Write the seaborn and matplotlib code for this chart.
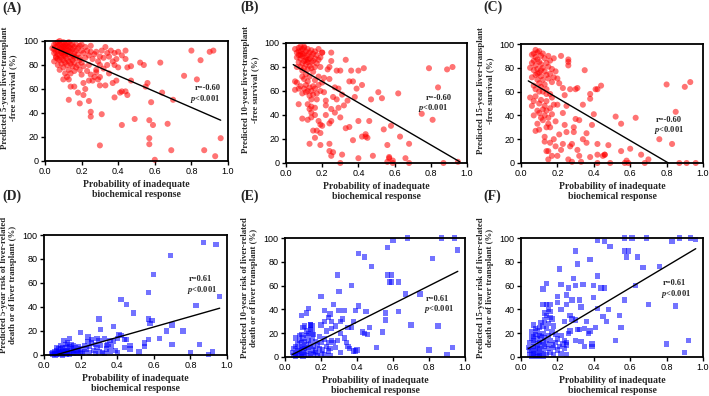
import matplotlib
matplotlib.use("Agg")
import matplotlib.pyplot as plt
import seaborn as sns

# ---------------- data ----------------
a_x = [0.04,0.05,0.05,0.06,0.06,0.06,0.07,0.07,0.07,0.07,0.08,0.08,
       0.08,0.08,0.09,0.09,0.09,0.09,0.09,0.10,0.10,0.10,0.10,0.10,
       0.11,0.11,0.11,0.11,0.12,0.12,0.12,0.12,0.13,0.13,0.13,0.13,
       0.14,0.14,0.14,0.15,0.15,0.15,0.16,0.16,0.16,0.17,0.17,0.18,
       0.18,0.19,0.19,0.20,0.20,0.06,0.07,0.09,0.11,0.12,0.14,0.05,
       0.05,0.06,0.07,0.08,0.08,0.09,0.10,0.10,0.11,0.11,0.12,0.12,
       0.13,0.13,0.13,0.14,0.14,0.15,0.15,0.16,0.16,0.17,0.17,0.18,
       0.19,0.19,0.20,0.10,0.14,0.16,
       0.21,0.22,0.22,0.23,0.24,0.24,0.25,0.25,0.26,0.27,0.28,0.28,
       0.29,0.30,0.30,0.31,0.32,0.33,0.34,0.35,0.36,0.37,0.38,0.38,
       0.39,0.40,0.40,0.42,0.44,0.44,0.45,0.47,0.52,0.54,0.63,0.21,
       0.20,0.21,0.22,0.23,0.24,0.25,0.26,0.27,0.28,0.29,0.30,0.30,
       0.32,0.33,0.34,0.35,0.37,0.38,0.39,0.41,0.42,0.44,0.45,0.47,
       0.55,0.56,0.58,0.64,0.70,0.13,0.19,0.18,0.21,0.24,
       0.25,0.25,0.31,0.42,0.49,0.57,0.59,0.67,0.57,0.57,0.30,0.60,0.69,
       0.76,0.80,0.83,0.85,0.87,0.90,0.92,0.93,0.96]
a_y = [94,93,97,95,98,91,92,96,99,89,94,97,
       100,88,90,93,95,98,86,91,94,96,99,88,
       92,95,97,87,90,93,98,85,89,92,95,99,
       91,94,86,88,93,97,90,95,87,92,97,89,
       94,86,96,92,97,87,85,91,89,96,97,90,
       83,86,80,76,84,81,78,84,73,82,80,70,
       76,68,83,81,73,79,84,75,82,78,86,80,
       76,84,82,68,62,62,
       90,86,95,92,88,80,96,91,85,89,91,76,
       83,87,80,92,86,95,90,87,92,83,90,80,
       85,91,78,88,92,85,78,79,82,80,82,79,
       72,65,60,75,67,72,67,70,74,68,70,63,
       77,63,80,73,65,53,67,57,58,58,55,67,
       62,65,49,57,51,51,48,57,55,50,
       41,37,39,30,35,34,30,31,19,14,13,1,9,
       71,92,68,84,9,91,92,4,19]

b_x = [0.05,0.06,0.06,0.07,0.07,0.07,0.08,0.08,0.08,0.08,0.09,0.09,
       0.09,0.09,0.10,0.10,0.10,0.10,0.11,0.11,0.11,0.11,0.12,0.12,
       0.12,0.12,0.13,0.13,0.13,0.13,0.14,0.14,0.14,0.15,0.15,0.15,
       0.16,0.16,0.16,0.17,0.17,0.18,0.18,0.19,0.19,0.20,0.06,0.10,
       0.07,0.09,0.12,0.14,0.08,0.11,
       0.06,0.07,0.08,0.09,0.10,0.10,0.11,0.11,0.12,0.12,0.13,0.13,
       0.14,0.14,0.15,0.15,0.16,0.16,0.17,0.17,0.18,0.18,0.19,0.20,
       0.05,0.05,0.07,0.12,0.14,0.09,0.16,0.13,
       0.09,0.12,0.14,0.14,0.16,0.13,0.15,0.17,0.19,0.18,0.20,0.19,
       0.19,0.16,
       0.20,0.21,0.21,0.22,0.22,0.23,0.24,0.24,0.25,0.25,0.25,0.25,
       0.24,0.24,0.24,0.26,0.27,0.28,0.28,0.29,0.29,0.30,0.30,0.31,
       0.30,0.33,0.33,0.34,0.35,0.36,0.37,0.37,0.38,0.39,0.40,0.40,
       0.40,0.42,0.42,0.43,0.44,0.44,0.45,0.46,0.47,0.48,0.25,0.26,
       0.32,0.27,0.22,0.35,0.31,
       0.51,0.53,0.54,0.56,0.56,0.57,0.57,0.58,0.59,0.59,0.62,0.63,
       0.66,0.68,0.68,0.75,0.79,0.81,0.84,0.87,0.89,0.92,0.95]
b_y = [95,92,88,96,90,84,97,93,87,80,95,89,
       83,77,96,91,85,79,93,88,82,74,95,90,
       84,78,92,87,81,72,94,89,79,91,85,76,
       93,87,80,90,83,95,86,88,80,92,80,97,
       93,91,86,84,90,86,
       67,62,64,58,62,70,59,65,60,68,63,56,
       60,53,64,57,62,69,58,53,65,72,60,67,
       68,61,49,49,47,72,46,45,
       37,36,42,38,40,16,27,27,32,35,31,25,
       15,21,
       92,59,71,48,40,78,70,80,92,85,45,35,
       33,16,10,55,63,53,77,46,62,77,38,7,
       0,29,86,52,68,77,68,19,55,62,77,35,
       4,65,22,79,24,22,21,35,53,6,6,9,
       48,42,52,30,57,
       59,54,28,15,1,5,4,31,2,0,58,22,
       4,16,0,41,79,36,63,0,78,80,1]

c_x = [0.06,0.06,0.07,0.07,0.07,0.08,0.08,0.08,0.08,0.09,0.09,0.09,
       0.09,0.10,0.10,0.10,0.10,0.11,0.11,0.11,0.11,0.12,0.12,0.12,
       0.13,0.13,0.13,0.14,0.14,0.14,0.15,0.15,0.15,0.16,0.16,0.17,
       0.17,0.18,0.18,0.05,0.06,0.07,0.08,0.10,0.12,0.14,0.09,0.11,
       0.05,0.06,0.07,0.07,0.08,0.09,0.09,0.10,0.10,0.11,0.11,0.12,
       0.12,0.13,0.13,0.14,0.14,0.15,0.15,0.16,0.16,0.17,0.17,0.18,
       0.08,0.10,0.13,0.14,0.19,0.20,0.16,
       0.13,0.14,0.15,0.16,0.17,0.18,0.20,0.22,0.19,0.21,0.15,0.23,
       0.19,0.20,0.21,0.22,0.23,0.24,0.25,0.25,0.26,0.26,0.27,0.26,
       0.27,0.28,0.28,0.29,0.30,0.30,0.31,0.32,0.32,0.33,0.34,0.34,
       0.35,0.36,0.38,0.38,0.38,0.39,0.40,0.41,0.42,0.42,0.42,0.42,
       0.45,0.46,0.46,0.48,0.49,0.23,0.29,0.31,0.24,0.36,0.26,0.44,
       0.52,0.55,0.55,0.57,0.58,0.59,0.60,0.63,0.66,0.68,0.70,0.76,
       0.80,0.83,0.85,0.87,0.90,0.91,0.93,0.96]
c_y = [91,84,92,86,78,95,89,82,74,93,87,79,
       70,94,85,76,67,90,83,73,64,92,80,70,
       88,77,66,84,74,62,90,81,71,86,75,79,
       68,88,72,80,72,65,62,60,60,58,75,78,
       55,48,52,40,56,44,33,50,42,38,53,45,
       36,48,40,44,52,38,33,46,30,41,55,49,
       27,28,22,30,35,49,58,
       18,10,10,17,6,20,6,11,14,24,3,16,
       77,71,67,90,63,57,48,26,85,82,62,87,
       14,16,1,26,62,37,63,36,6,1,49,20,
       78,17,58,54,5,32,41,62,62,16,7,0,
       6,7,7,15,0,42,30,11,32,25,3,65,
       39,33,10,0,2,0,12,38,7,0,3,20,
       66,16,43,0,64,0,68,0]

d_x = [0.04,0.05,0.05,0.06,0.06,0.06,0.07,0.07,0.07,0.08,0.08,0.08,
       0.09,0.09,0.09,0.10,0.10,0.10,0.10,0.11,0.11,0.11,0.12,0.12,
       0.12,0.13,0.13,0.13,0.14,0.14,0.14,0.15,0.15,0.15,0.16,0.16,
       0.17,0.17,0.18,0.18,0.19,0.19,0.20,0.20,0.11,0.13,0.14,0.16,
       0.12,0.09,0.08,0.07,
       0.21,0.22,0.22,0.23,0.24,0.25,0.25,0.26,0.27,0.28,0.28,0.29,
       0.30,0.30,0.31,0.32,0.33,0.34,0.35,0.36,0.37,0.38,0.39,0.40,
       0.26,0.33,0.36,0.24,0.29,0.34,
       0.20,0.30,0.31,0.38,0.42,0.45,0.49,0.57,0.57,0.59,0.58,0.60,
       0.69,0.87,0.94,0.96,0.83,0.70,0.67,0.76,0.63,0.41,0.42,0.44,
       0.45,0.40,0.57,0.55,0.55,0.52,0.70,0.85,0.80,0.92,0.90,0.47,
       0.44,0.47]
d_y = [1,0.5,2,1,3,0,1.5,0.5,4,2,1,3,
       0.5,2,5,1,3,6,0,2,4,1,3,0.5,
       6,2,4,1,3,7,0.5,2,5,9,1,4,
       2,6,1,4,3,7,2,5,12,10,14,8,
       9,8,5,6,
       1,3,8,5,11,2,7,13,4,1,9,6,
       3,12,8,2,14,5,9,3,7,11,4,2,
       10,1,12,15,14,8,
       19,30,21,24,46,42,35,52,30,29,26,67,
       83,94,92,49,41,25,20,20,14,17,16,13,
       13,14,13,10,7,2.5,9,9,2,2.5,0.3,8,
       6,5]

e_x = [0.04,0.05,0.05,0.06,0.06,0.06,0.07,0.07,0.07,0.08,0.08,0.08,
       0.09,0.09,0.09,0.10,0.10,0.10,0.10,0.11,0.11,0.11,0.11,0.12,
       0.12,0.12,0.13,0.13,0.13,0.14,0.14,0.14,0.15,0.15,0.15,0.16,
       0.16,0.16,0.17,0.17,0.18,0.18,0.19,0.19,0.20,0.20,0.21,0.22,
       0.22,0.23,0.24,0.24,0.25,0.25,0.12,0.14,0.13,0.06,0.09,0.17,
       0.10,0.08,0.15,
       0.09,0.12,0.13,0.14,0.20,0.20,0.22,0.22,0.24,0.25,0.26,0.26,
       0.27,0.28,0.29,0.30,0.30,0.31,0.32,0.33,0.33,0.34,0.35,0.36,
       0.37,0.37,0.38,0.39,0.39,0.40,0.41,0.41,0.43,0.44,0.44,0.45,
       0.46,0.47,0.48,0.29,0.31,0.35,0.27,0.23,0.31,0.26,0.38,0.28,
       0.51,0.54,0.56,0.56,0.57,0.57,0.58,0.59,0.59,0.60,0.63,0.63,
       0.67,0.68,0.70,0.75,0.80,0.82,0.85,0.87,0.90,0.93,0.94,0.96]
e_y = [4,1,7,3,0.5,9,2,5,11,1,6,14,
       3,8,12,0.5,4,9,16,2,7,13,26,5,
       10,18,1,8,14,3,11,23,6,16,26,2,
       9,19,5,13,1,10,7,17,3,12,6,15,
       2,9,5,12,1,7,22,27,20,16,19,4,
       25,18,21,
       35,37,41,27,51,27,30,39,33,36,30,24,
       44,26,69,55,39,20,32,39,16,12,25,7,
       60,25,30,39,5,6,43,87,21,20,84,38,
       19,25,76,14,4,9,12,22,30,14,5,8,
       8,21,31,37,69,92,63,69,63,98,38,63,
       53,100,27,53,6,83,26,100,2,8,100,90]

f_x = [0.04,0.05,0.05,0.06,0.06,0.06,0.07,0.07,0.07,0.07,0.08,0.08,
       0.08,0.08,0.09,0.09,0.09,0.09,0.10,0.10,0.10,0.10,0.11,0.11,
       0.11,0.11,0.12,0.12,0.12,0.12,0.13,0.13,0.13,0.14,0.14,0.14,
       0.15,0.15,0.15,0.16,0.16,0.16,0.17,0.17,0.18,0.18,0.19,0.19,
       0.20,0.20,0.21,0.22,0.22,0.23,0.24,0.24,0.25,0.25,0.14,0.16,
       0.13,0.17,0.12,0.10,0.09,0.06,0.07,0.18,0.05,0.08,
       0.12,0.14,0.12,0.14,0.15,0.16,0.20,0.20,0.21,0.22,0.22,0.25,
       0.25,0.25,0.26,0.27,0.28,0.29,0.30,0.30,0.30,0.31,0.32,0.33,
       0.33,0.34,0.35,0.36,0.37,0.38,0.38,0.39,0.39,0.40,0.40,0.41,
       0.42,0.42,0.42,0.44,0.45,0.46,0.46,0.47,0.48,0.49,0.30,0.32,
       0.28,0.26,0.31,0.35,0.24,0.27,
       0.52,0.54,0.55,0.57,0.57,0.58,0.59,0.61,0.63,0.64,0.67,0.69,
       0.70,0.76,0.80,0.83,0.85,0.87,0.90,0.92,0.93,0.96,0.57]
f_y = [8,2,12,0.5,5,16,3,9,14,27,1,6,
       11,19,4,8,15,22,1,7,12,25,3,10,
       17,29,5,13,20,0.5,9,16,31,2,11,24,
       7,18,28,4,14,33,10,21,2,26,12,19,
       6,15,9,3,18,11,7,14,2,10,35,38,
       37,32,26,18,0.5,21,17,8,6,24,
       57,62,44,44,40,44,46,51,74,61,40,52,
       44,12,58,22,48,66,89,60,31,78,48,42,
       13,61,24,30,20,82,22,9,11,60,50,25,
       98,68,41,58,34,97,58,30,40,93,14,23,
       32,20,23,9,30,35,
       14,35,25,100,89,84,89,100,60,84,75,100,
       44,76,11,97,43,100,4,14,100,99,48]

# regression lines (end points)
fit_x_top = [0.04, 0.96]
fit_a_y = [95, 34]
fit_b_y = [82, 1]
fit_c_x = [0.04, 0.81]
fit_c_y = [69, 0]
fit_x_bot = [0.04, 0.96]
fit_d_y = [-1, 39]
fit_e_y = [2, 72]
fit_f_y = [7, 91]

r_top = "r=-0.60"
r_bot = "r=0.61"
p_txt = r"$p$<0.001"

ylabels = [
    "Predicted 5-year liver-transplant\n-free survival (%)",
    "Predicted 10-year liver-transplant\n-free survival (%)",
    "Predicted 15-year liver-transplant\n-free survival (%)",
    "Predicted 5-year risk of liver-related\ndeath or of liver transplant (%)",
    "Predicted 10-year risk of liver-related\ndeath or of liver transplant (%)",
    "Predicted 15-year risk of liver-related\ndeath or of liver transplant (%)",
]
xlabel = "Probability of inadequate\nbiochemical response"
panel_tags = ["(A)", "(B)", "(C)", "(D)", "(E)", "(F)"]
xticks = [0.0, 0.2, 0.4, 0.6, 0.8, 1.0]
xticklabels = ["0.0", "0.2", "0.4", "0.6", "0.8", "1.0"]
yticks = [0, 20, 40, 60, 80, 100]

# ---------------- style ----------------
sns.set_theme(style="ticks")
plt.rcParams["font.family"] = ["Liberation Sans", "DejaVu Sans"]
plt.rcParams["mathtext.fontset"] = "custom"
plt.rcParams["mathtext.it"] = "Liberation Serif:italic:bold"
plt.rcParams["mathtext.rm"] = "Liberation Serif:bold"
SERIF = ["Liberation Serif", "DejaVu Serif"]

W, H = 709, 396
fig = plt.figure(figsize=(W / 100, H / 100), dpi=100)

def px_axes(l, t, r, b):
    return fig.add_axes([l / W, 1 - b / H, (r - l) / W, (b - t) / H])

boxes = [(45, 41, 228, 161), (286, 43, 467, 163), (521, 44, 703, 163),
         (44, 235, 227, 355), (285, 238, 465, 357), (521, 238, 703, 357)]

panels = [
    (a_x, a_y, fit_x_top, fit_a_y, r_top, (0.82, 60.5), (0.79, 51.5)),
    (b_x, b_y, fit_x_top, fit_b_y, r_top, (0.77, 54), (0.73, 45.5)),
    (c_x, c_y, fit_c_x, fit_c_y, r_top, (0.74, 36), (0.73, 27.5)),
    (d_x, d_y, fit_x_bot, fit_d_y, r_bot, (0.79, 63), (0.78, 54.5)),
    (e_x, e_y, fit_x_bot, fit_e_y, r_bot, (0.78, 48.5), (0.77, 40.5)),
    (f_x, f_y, fit_x_bot, fit_f_y, r_bot, (0.78, 62), (0.77, 53)),
]

for i, (box, pan) in enumerate(zip(boxes, panels)):
    xs, ys, fx, fy, rtxt, rpos, ppos = pan
    ax = px_axes(*box)
    top = i < 3
    if top:
        sns.scatterplot(x=xs, y=ys, ax=ax, color="#ff0000", alpha=0.55, s=19,
                        marker="o", edgecolor="none", linewidth=0, clip_on=False)
    else:
        sns.scatterplot(x=xs, y=ys, ax=ax, color="#0000ff", alpha=0.55, s=15,
                        marker="s", edgecolor="none", linewidth=0, clip_on=False)
    ax.plot(fx, fy, color="black", lw=1.0, zorder=3)
    ax.set_xlim(0, 1.0)
    ax.set_ylim(0, 100)
    ax.set_xticks(xticks)
    ax.set_xticklabels(xticklabels)
    ax.set_yticks(yticks)
    ax.tick_params(axis="both", direction="out", length=3, width=1,
                   labelsize=6.5, pad=1.5, colors="black")
    for sp in ax.spines.values():
        sp.set_visible(True)
        sp.set_linewidth(1.3)
        sp.set_color("black")
    ax.set_xlabel(xlabel, fontsize=7, fontweight="bold", family=SERIF,
                  labelpad=3, linespacing=1.1)
    ax.set_ylabel(ylabels[i], fontsize=6.3, fontweight="bold", family=SERIF,
                  linespacing=1.1)
    ax.yaxis.set_label_coords(-0.15, 0.61 if top else 0.58)
    ax.text(rpos[0], rpos[1], rtxt, fontsize=6, fontweight="bold", family=SERIF,
            va="center", ha="left")
    ax.text(ppos[0], ppos[1], p_txt, fontsize=6, fontweight="bold", family=SERIF,
            va="center", ha="left")
    ax.grid(False)

tag_pos = [(2, 8), (240, 7), (483, 7), (2, 196), (240, 196), (483, 196)]
for tag, (tx, ty) in zip(panel_tags, tag_pos):
    fig.text(tx / W, 1 - ty / H, tag, fontsize=10, fontweight="bold",
             family=SERIF, ha="left", va="center")

fig.savefig("out.png", dpi=100)
